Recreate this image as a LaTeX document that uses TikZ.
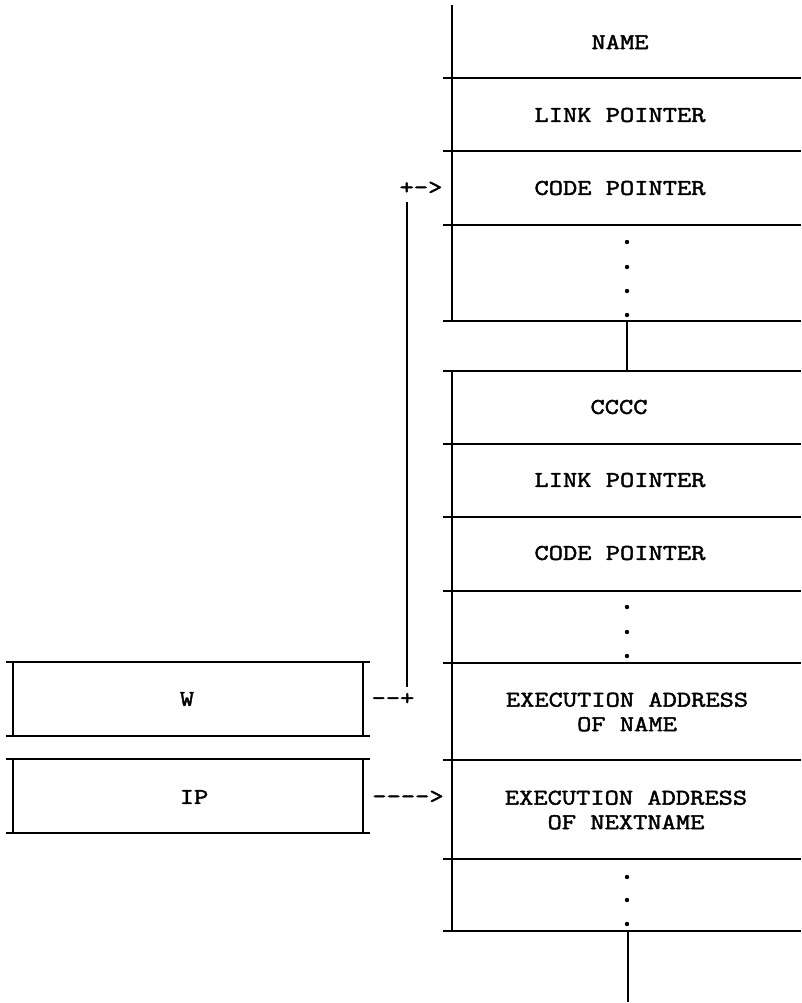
\documentclass[tikz,border=0pt]{standalone}
\usepackage{fontspec}
\newfontfamily\typew[FakeStretch=1.23,FakeBold=2]{Latin Modern Mono}
\begin{document}
\begin{tikzpicture}[x=1pt,y=-1pt,
  rule/.style={line width=1.2pt},
  lbl/.style={font=\fontsize{22.5}{24.5}\selectfont\typew, inner sep=0pt, align=center},
  ascii/.style={font=\fontsize{22.5}{24}\selectfont\typew, inner sep=0pt},
  dotm/.style={fill, circle, inner sep=0pt, minimum size=4.4pt}]
\useasboundingbox (0,0) rectangle (801,1003);

% upper dictionary entry
\draw[rule] (452,5) -- (452,321);
\foreach \y in {78,151,225,321} \draw[rule] (443,\y) -- (801,\y);
% link between entries
\draw[rule] (627,321) -- (627,371);
% lower dictionary entry
\draw[rule] (452,371) -- (452,931);
\foreach \y in {371,444,517,591,663,760,859,931} \draw[rule] (443,\y) -- (801,\y);
\draw[rule] (628,931) -- (628,1002);

% registers
\foreach \t/\b in {662/736,759/833} {
  \draw[rule] (6,\t) -- (370,\t);
  \draw[rule] (6,\b) -- (370,\b);
  \draw[rule] (13,\t) -- (13,\b);
  \draw[rule] (363,\t) -- (363,\b);
}

% cell labels
\node[lbl] (name)  at (620,42)  {NAME};
\node[lbl] (link1) at (620,115) {LINK POINTER};
\node[lbl] (code1) at (620,188) {CODE POINTER};
\node[lbl] (cccc)  at (619,407) {CCCC};
\node[lbl] (link2) at (620,480) {LINK POINTER};
\node[lbl] (code2) at (620,553) {CODE POINTER};
\node[lbl] (exa)   at (627,712) {EXECUTION ADDRESS\\OF NAME};
\node[lbl] (exb)   at (626,810) {EXECUTION ADDRESS\\OF NEXTNAME};
\node[lbl] (w)     at (187,699) {W};
\node[lbl] (ip)    at (194,797) {IP};

% ellipsis dots
\foreach \y [count=\i] in {242,267,291,315} \node[dotm] (da\i) at (627,\y) {};
\foreach \y [count=\i] in {607,632,656} \node[dotm] (db\i) at (627,\y) {};
\foreach \y [count=\i] in {877,900,924} \node[dotm] (dc\i) at (627,\y) {};

% typed pointers
\node[ascii] (cparrow) at (421,188) {+->};
\node[ascii] (wlink)   at (393,699) {--+};
\node[ascii] (iparrow) at (408,797) {---->};
\coordinate (plusTop) at (407,202);
\coordinate (plusBot) at (407,687);
\draw[rule] (plusTop) -- (plusBot);
\end{tikzpicture}
\end{document}
